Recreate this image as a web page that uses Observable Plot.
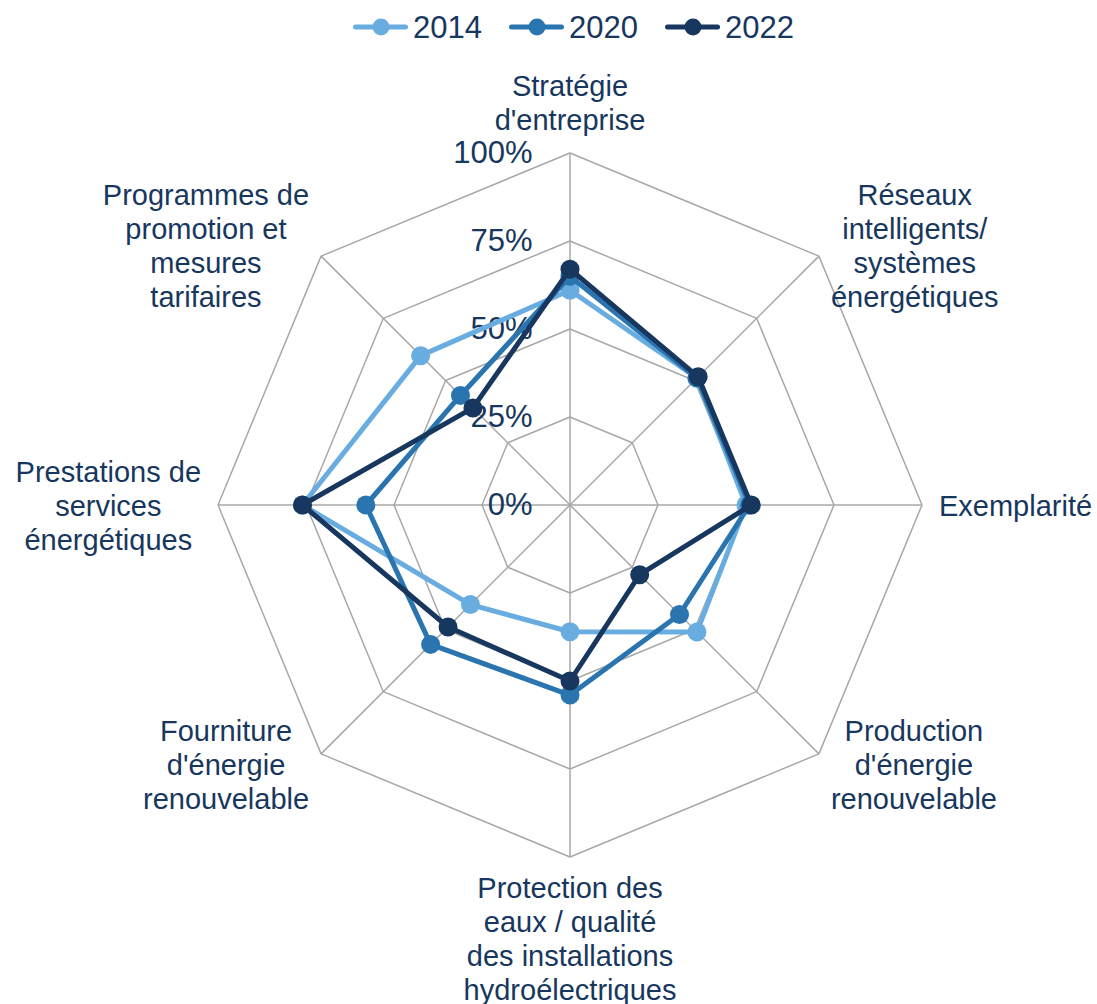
<!DOCTYPE html>
<html>
<head>
<meta charset="utf-8">
<script src="https://cdn.jsdelivr.net/npm/d3@7"></script>
<script src="https://cdn.jsdelivr.net/npm/@observablehq/plot@0.6"></script>
<style>
  html, body { margin: 0; padding: 0; background: #ffffff; }
  body { width: 1097px; height: 1004px; overflow: hidden; font-family: "Liberation Sans", Arial, sans-serif; }
  #legend { height: 54px; display: flex; align-items: center; padding-left: 353px; gap: 27px; }
  .item { display: flex; align-items: center; }
  .item span { font-size: 31px; color: #17375e; margin-left: 5px; line-height: 1; }
  #chart svg { display: block; }
</style>
</head>
<body>
<div id="legend"></div>
<div id="chart"></div>
<script>
// ---- data ----
const categories = [
  "Stratégie\nd'entreprise",
  "Réseaux\nintelligents/\nsystèmes\nénergétiques",
  "Exemplarité",
  "Production\nd'énergie\nrenouvelable",
  "Protection des\neaux / qualité\ndes installations\nhydroélectriques",
  "Fourniture\nd'énergie\nrenouvelable",
  "Prestations de\nservices\nénergétiques",
  "Programmes de\npromotion et\nmesures\ntarifaires"
];
const years = ["2014", "2020", "2022"];
const values2014 = [61, 51, 50, 51, 36, 40, 76, 60];
const values2020 = [65, 51, 51, 44, 54, 56, 58, 44];
const values2022 = [67, 51.5, 51.5, 28, 50, 49, 76, 39];
const ticks = [0, 25, 50, 75, 100];
const tickLabels = ["0%", "25%", "50%", "75%", "100%"];
const colors = ["#69ade0", "#2a75b0", "#17375e"];

// ---- layout ----
const W = 1097, H = 950;
const CX = 569.5, CY = 450.5, R = 352;
const textColor = "#17375e";
const gridColor = "#a8a8a8";
const FONT = 29;
const TICKFONT = 31;

const n = categories.length;
const angles = categories.map((_, i) => i * 2 * Math.PI / n);
const series = [values2014, values2020, values2022];

// legend
const legend = document.getElementById("legend");
years.forEach((y, i) => {
  const item = document.createElement("div");
  item.className = "item";
  item.innerHTML = `<svg width="55" height="20"><line x1="2.5" y1="10" x2="52.5" y2="10" stroke="${colors[i]}" stroke-width="5" stroke-linecap="round"/><circle cx="28" cy="10" r="8.5" fill="${colors[i]}"/></svg><span>${y}</span>`;
  legend.appendChild(item);
});

// grid rings
const ringPts = ticks.filter(t => t > 0).flatMap(t =>
  [...angles, angles[0]].map(a => ({t, x: t / 100 * Math.sin(a), y: t / 100 * Math.cos(a)}))
);
// spokes
const spokes = angles.map(a => ({x2: Math.sin(a), y2: Math.cos(a)}));

// series points (closed)
const seriesPts = years.map((yr, k) => {
  const vals = series[k];
  const pts = vals.map((v, i) => ({year: yr, x: v / 100 * Math.sin(angles[i]), y: v / 100 * Math.cos(angles[i])}));
  return {line: [...pts, pts[0]], dots: pts};
});

// category label positions
const canvas = document.createElement("canvas");
const ctx = canvas.getContext("2d");
ctx.font = `${FONT}px "Liberation Sans"`;
const labels = categories.map((label, i) => {
  const a = angles[i], s = Math.sin(a), c = Math.cos(a);
  const vx = CX + R * s, vy = CY - R * c;
  const w = Math.max(...label.split("\n").map(l => ctx.measureText(l).width));
  let px, py, anchor;
  if (Math.abs(s) < 1e-6) {
    px = vx;
    if (c > 0) { py = vy - 23.5; anchor = "bottom"; }
    else { py = vy + 17; anchor = "top"; }
  } else if (Math.abs(c) < 1e-6) {
    px = vx + Math.sign(s) * (17 + w / 2); py = vy; anchor = "middle";
  } else {
    px = vx + Math.sign(s) * (12 + w / 2); py = vy - c * 15; anchor = "middle";
  }
  return {label, x: (px - CX) / R, y: (CY - py) / R, anchor};
});

const marks = [
  Plot.line(ringPts, {x: "x", y: "y", z: "t", stroke: gridColor, strokeWidth: 1.5}),
  Plot.link(spokes, {x1: () => 0, y1: () => 0, x2: "x2", y2: "y2", stroke: gridColor, strokeWidth: 1.5}),
  Plot.text(ticks, {x: () => -37.5 / R, y: d => d / 100, text: (d, i) => tickLabels[i], textAnchor: "end", lineAnchor: "middle", fontSize: TICKFONT, fill: textColor}),
  ...["top", "middle", "bottom"].map(an =>
    Plot.text(labels.filter(d => d.anchor === an), {x: "x", y: "y", text: "label", textAnchor: "middle", lineAnchor: an, lineHeight: 1.17, fontSize: FONT, fill: textColor})
  )
];
seriesPts.forEach((sp, k) => {
  marks.push(Plot.line(sp.line, {x: "x", y: "y", stroke: colors[k], strokeWidth: 5, strokeLinejoin: "round"}));
  marks.push(Plot.dot(sp.dots, {x: "x", y: "y", fill: colors[k], r: 9.5, stroke: "none"}));
});

const chart = Plot.plot({
  width: W,
  height: H,
  margin: 0,
  style: {fontFamily: "'Liberation Sans', Arial, sans-serif", background: "#ffffff"},
  x: {domain: [-CX / R, (W - CX) / R], range: [0, W], axis: null},
  y: {domain: [-(H - CY) / R, CY / R], range: [H, 0], axis: null},
  marks
});
document.getElementById("chart").appendChild(chart);
</script>
</body>
</html>
